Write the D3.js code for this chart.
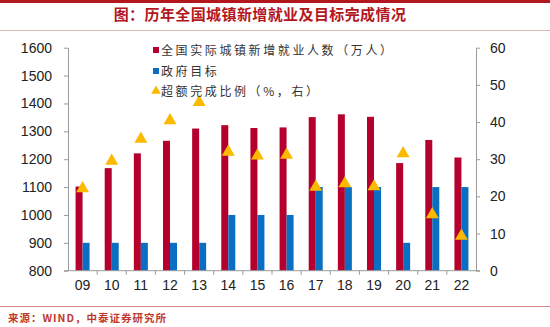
<!DOCTYPE html>
<html>
<head>
<meta charset="utf-8">
<script src="https://cdn.jsdelivr.net/npm/d3@7/dist/d3.min.js"></script>
<style>
  html, body { margin: 0; padding: 0; background: #fff; }
  svg { display: block; }
</style>
</head>
<body>
<svg id="chart" width="550" height="327"></svg>
<script>
// Years (20xx) shown on the category axis
const years = ["09", "10", "11", "12", "13", "14", "15", "16", "17", "18", "19", "20", "21", "22"];
// Actual new urban jobs, 10k people
const actualJobs = [1102, 1168, 1221, 1266, 1310, 1322, 1312, 1314, 1351, 1361, 1352, 1186, 1269, 1206];
// Government target, 10k people
const targetJobs = [900, 900, 900, 900, 900, 1000, 1000, 1000, 1100, 1100, 1100, 900, 1100, 1100];
// Share by which the target was exceeded, % (right axis)
const exceedPct = [22.4, 29.8, 35.7, 40.7, 45.6, 32.2, 31.2, 31.4, 22.8, 23.7, 22.9, 31.8, 15.4, 9.6];
// Axis tick values
const leftTicks = [800, 900, 1000, 1100, 1200, 1300, 1400, 1500, 1600];
const rightTicks = [0, 10, 20, 30, 40, 50, 60];

const seriesNames = ["全国实际城镇新增就业人数（万人）", "政府目标", "超额完成比例（%，右）"];
const titleText = "图：历年全国城镇新增就业及目标完成情况";
const sourceText = "来源：WIND，中泰证券研究所";

const RED = "#b5002d", BLUE = "#0a6fc2", GOLD = "#fbb900";
const AXIS = "#9a9a9a";
const LABEL_FONT = "Liberation Sans, Arial, sans-serif";
const CJK_FONT = "'Noto Sans CJK SC', sans-serif";

const svg = d3.select("#chart");
const plot = { left: 68, right: 476, top: 47.7, bottom: 270.7 };

const x = d3.scaleBand().domain(years).range([plot.left, plot.right]).paddingInner(0).paddingOuter(0);
const sub = d3.scaleBand().domain(["actual", "target"]).range([0, x.bandwidth()]).paddingInner(0).paddingOuter(1.08);
const yL = d3.scaleLinear().domain([800, 1600]).range([plot.bottom, plot.top]);
const yR = d3.scaleLinear().domain([0, 60]).range([plot.bottom, plot.top]);

// Header: top rule, title, divider
svg.append("rect").attr("x", 0).attr("y", 0).attr("width", 550).attr("height", 3).attr("fill", "#b3171e");
svg.append("text").attr("x", 260).attr("y", 20)
  .attr("text-anchor", "middle")
  .attr("font-family", CJK_FONT).attr("font-weight", "bold").attr("font-size", 15)
  .attr("letter-spacing", 0.4)
  .attr("fill", "#b3171e").text(titleText);
svg.append("line").attr("x1", 0).attr("x2", 550).attr("y1", 30.5).attr("y2", 30.5)
  .attr("stroke", "#d9b8b8").attr("stroke-width", 1);

// Bars
const g = svg.append("g");
g.selectAll("rect.actual").data(years).join("rect")
  .attr("class", "actual")
  .attr("x", d => x(d) + sub("actual"))
  .attr("width", sub.bandwidth())
  .attr("y", (d, i) => yL(actualJobs[i]))
  .attr("height", (d, i) => yL(800) - yL(actualJobs[i]))
  .attr("fill", RED);
g.selectAll("rect.target").data(years).join("rect")
  .attr("class", "target")
  .attr("x", d => x(d) + sub("target"))
  .attr("width", sub.bandwidth())
  .attr("y", (d, i) => yL(targetJobs[i]))
  .attr("height", (d, i) => yL(800) - yL(targetJobs[i]))
  .attr("fill", BLUE);

// Left axis
const axL = svg.append("g").attr("transform", `translate(${plot.left},0)`)
  .call(d3.axisLeft(yL).tickValues(leftTicks).tickFormat(d3.format("d"))
    .tickSize(4).tickSizeOuter(0).tickPadding(12));
// Right axis
const axR = svg.append("g").attr("transform", `translate(${plot.right},0)`)
  .call(d3.axisRight(yR).tickValues(rightTicks).tickFormat(d3.format("d"))
    .tickSize(4).tickSizeOuter(0).tickPadding(10));
[axL, axR].forEach(a => {
  a.selectAll("path, line").attr("stroke", AXIS);
  a.selectAll("text").attr("font-family", LABEL_FONT).attr("font-size", 14).attr("fill", "#222");
});

// Category axis: labels centered, ticks on band boundaries
const axB = svg.append("g").attr("transform", `translate(0,${plot.bottom})`)
  .call(d3.axisBottom(x).tickSize(0).tickPadding(9));
axB.select("path").remove();
axB.selectAll("text").attr("font-family", LABEL_FONT).attr("font-size", 14).attr("fill", "#222");
axB.append("line").attr("x1", plot.left - 4).attr("x2", plot.right + 4).attr("y1", 0).attr("y2", 0)
  .attr("stroke", AXIS);
axB.selectAll("line.bt").data(years.slice(1)).join("line")
  .attr("class", "bt")
  .attr("x1", d => x(d)).attr("x2", d => x(d))
  .attr("y1", 0).attr("y2", 4).attr("stroke", AXIS);

// Triangles on the right axis
const tri = d3.symbol().type(d3.symbolTriangle).size(72);
svg.append("g").selectAll("path").data(years).join("path")
  .attr("d", tri)
  .attr("transform", (d, i) => `translate(${x(d) + x.bandwidth() / 2},${yR(exceedPct[i]) + 1})`)
  .attr("fill", GOLD);

// Legend
const leg = svg.append("g").attr("transform", "translate(153,0)");
const rowY = [50, 71, 91];
leg.append("rect").attr("x", 0).attr("y", rowY[0] - 3).attr("width", 6).attr("height", 6).attr("fill", RED);
leg.append("rect").attr("x", 0).attr("y", rowY[1] - 3).attr("width", 6).attr("height", 6).attr("fill", BLUE);
leg.append("path").attr("d", d3.symbol().type(d3.symbolTriangle).size(40))
  .attr("transform", `translate(3,${rowY[2]})`).attr("fill", GOLD);
leg.selectAll("text").data(seriesNames).join("text")
  .attr("x", 8).attr("y", (d, i) => rowY[i] + 4.5)
  .attr("font-family", CJK_FONT).attr("font-size", 12).attr("letter-spacing", 2.6)
  .attr("fill", "#333").text(d => d);

// Footer
svg.append("line").attr("x1", 0).attr("x2", 550).attr("y1", 306.5).attr("y2", 306.5)
  .attr("stroke", "#d98c8c").attr("stroke-width", 1);
svg.append("text").attr("x", 8).attr("y", 322)
  .attr("font-family", CJK_FONT).attr("font-size", 10.5).attr("font-weight", "bold")
  .attr("letter-spacing", 1)
  .attr("fill", "#c0392b").text(sourceText);
</script>
</body>
</html>
